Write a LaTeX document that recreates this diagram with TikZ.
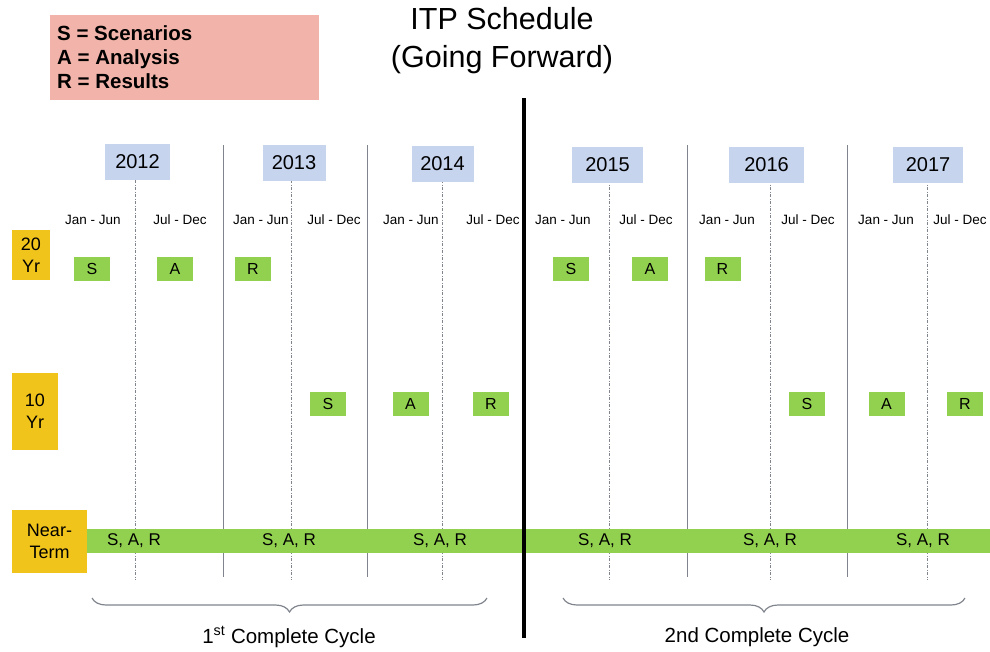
\documentclass[tikz,border=0pt]{standalone}
\usepackage{fontspec}
\setmainfont{Liberation Sans}
\usetikzlibrary{decorations.pathreplacing}
\definecolor{legendpink}{HTML}{F2B4AA}
\definecolor{rowyellow}{HTML}{F1C41C}
\definecolor{yearblue}{HTML}{C6D4EE}
\definecolor{actgreen}{HTML}{92D050}
\definecolor{sepgray}{HTML}{80848C}
\tikzset{
  legendbox/.style={fill=legendpink, minimum width=269pt, minimum height=85pt, inner sep=0pt},
  yearbox/.style={fill=yearblue, minimum height=36pt, inner sep=0pt, font=\fontsize{20}{20}\selectfont},
  rowbox/.style={fill=rowyellow, inner sep=0pt, align=center, font=\fontsize{18}{22}\selectfont},
  actbox/.style={fill=actgreen, minimum width=36pt, minimum height=24pt, inner sep=0pt, font=\fontsize{16}{16}\selectfont},
  halflbl/.style={inner sep=0pt, font=\fontsize{13.5}{13.5}\selectfont},
  sarlbl/.style={inner sep=0pt, font=\fontsize{17}{17}\selectfont},
  yearsep/.style={draw=sepgray, line width=0.9pt},
  halfsep/.style={draw=sepgray, line width=0.7pt, dash pattern=on 3pt off 1.5pt on 1pt off 1.5pt},
  cyclebrace/.style={draw=sepgray, line width=1.2pt, decorate, decoration={brace, mirror, amplitude=14pt}},
  cyclelbl/.style={inner sep=0pt, font=\fontsize{20.5}{20.5}\selectfont},
}
\begin{document}
\begin{tikzpicture}[x=1pt,y=-1pt]
\useasboundingbox (0,0) rectangle (990,651);
% legend and title
\node[legendbox] (legend) at (184.5,57.5) {};
\node[anchor=west, inner sep=0pt, align=left, font=\fontsize{20.5}{24}\bfseries\selectfont] (legendtext) at (57,57.5) {S = Scenarios\\A = Analysis\\R = Results};
\node[inner sep=0pt, align=center, font=\fontsize{30.5}{38}\selectfont] (title) at (502,41) {ITP Schedule\\(Going Forward)};
% separators
\foreach \x [count=\i] in {223,367,687,847} \draw[yearsep] (\x,145) coordinate (ys\i) -- (\x,577) coordinate (ye\i);
\foreach \x [count=\i] in {135,291,442,609,770,927} \draw[halfsep] (\x,180) coordinate (hs\i) -- (\x,580) coordinate (he\i);
% year boxes
\node[yearbox, minimum width=65pt] (y2012) at (137.5,162) {2012};
\node[yearbox, minimum width=63pt] (y2013) at (294,163) {2013};
\node[yearbox, minimum width=62pt] (y2014) at (442.5,164) {2014};
\node[yearbox, minimum width=71pt] (y2015) at (607.5,164.5) {2015};
\node[yearbox, minimum width=75pt] (y2016) at (766.5,164.5) {2016};
\node[yearbox, minimum width=70pt] (y2017) at (928,164.5) {2017};
% half-year labels
\foreach \x/\t [count=\i] in {93/Jan - Jun,180/Jul - Dec,261/Jan - Jun,334/Jul - Dec,411/Jan - Jun,493/Jul - Dec,563/Jan - Jun,646/Jul - Dec,727/Jan - Jun,808/Jul - Dec,886/Jan - Jun,960/Jul - Dec}
  \node[halflbl] (half\i) at (\x,220) {\t};
% row labels
\node[rowbox, minimum width=38pt, minimum height=50pt] (r20) at (31,255) {20\\Yr};
\node[rowbox, minimum width=46pt, minimum height=77pt] (r10) at (35,411.5) {10\\Yr};
% near-term bar
\node[fill=actgreen, minimum width=903pt, minimum height=24pt, inner sep=0pt] (bar) at (538.5,541) {};
\node[rowbox, minimum width=75pt, minimum height=63pt] (rnt) at (49.5,541.5) {Near-\\Term};
% 20 Yr activities
\node[actbox] (a20s1) at (92,269) {S};
\node[actbox] (a20a1) at (175,269) {A};
\node[actbox] (a20r1) at (253,269) {R};
\node[actbox] (a20s2) at (571,269) {S};
\node[actbox] (a20a2) at (650,269) {A};
\node[actbox] (a20r2) at (722.5,269) {R};
% 10 Yr activities
\node[actbox] (a10s1) at (328,403.5) {S};
\node[actbox] (a10a1) at (410.5,403.5) {A};
\node[actbox] (a10r1) at (491,403.5) {R};
\node[actbox] (a10s2) at (807,403.5) {S};
\node[actbox] (a10a2) at (886.5,403.5) {A};
\node[actbox] (a10r2) at (965,403.5) {R};
% near-term labels
\foreach \x [count=\i] in {134,289,440,605,770,923} \node[sarlbl] (sar\i) at (\x,541) {S, A, R};
% thick divider
\coordinate (divtop) at (524,98);
\coordinate (divbot) at (524,638);
\draw[line width=4pt] (divtop) -- (divbot);
% braces
\coordinate (b1l) at (92,598); \coordinate (b1r) at (487,598);
\coordinate (b2l) at (563,598); \coordinate (b2r) at (965,598);
\draw[cyclebrace] (b1l) -- (b1r);
\draw[cyclebrace] (b2l) -- (b2r);
\node[cyclelbl] (c1) at (289,637) {1\textsuperscript{st} Complete Cycle};
\node[cyclelbl] (c2) at (757,637) {2nd Complete Cycle};
\end{tikzpicture}
\end{document}
